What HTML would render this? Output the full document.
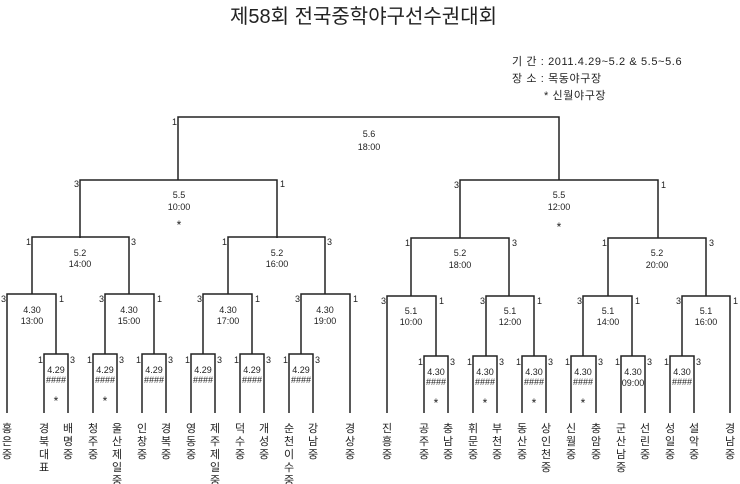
<!DOCTYPE html>
<html><head><meta charset="utf-8"><style>
html,body{margin:0;padding:0;background:#fff;}
svg{display:block;}
.t{font-family:"Liberation Sans","Noto Sans CJK KR",sans-serif;fill:#222;}
.s{font-size:9px;text-anchor:middle;}
.sc{font-size:9px;}
.n{font-size:11px;text-anchor:middle;font-family:"Liberation Sans","Noto Sans CJK KR",sans-serif;fill:#222;}
.i{font-size:11px;letter-spacing:0.6px;}
</style></head><body>
<svg width="740" height="484" viewBox="0 0 740 484" xmlns="http://www.w3.org/2000/svg">
<text x="230" y="23" class="t" style="font-size:20px">제58회  전국중학야구선수권대회</text>
<text x="512" y="65" class="t i">기  간 : 2011.4.29~5.2 &amp; 5.5~5.6</text>
<text x="512" y="82" class="t i">장  소 : 목동야구장</text>
<text x="544" y="99" class="t i">* 신월야구장</text>
<g fill="none" stroke="#222" stroke-width="1.5">
<path d="M178 180V117H559V180"/>
<path d="M80 238V180H277V238"/>
<path d="M460 238V180H658V238"/>
<path d="M32 294V237H129V294"/>
<path d="M228 294V237H325V294"/>
<path d="M411 296V238H509V296"/>
<path d="M608 296V238H706V296"/>
<path d="M7 413V294H56V354"/>
<path d="M105 354V294H154V354"/>
<path d="M203 354V294H252V354"/>
<path d="M301 354V294H350V413"/>
<path d="M387 413V296H436V356"/>
<path d="M486 356V296H534V356"/>
<path d="M583 356V296H632V356"/>
<path d="M682 356V296H730V413"/>
<path d="M44 413V354H68V413"/><path d="M93 413V354H117V413"/><path d="M142 413V354H166V413"/>
<path d="M191 413V354H215V413"/><path d="M240 413V354H264V413"/><path d="M289 413V354H313V413"/>
<path d="M424 413V356H448V413"/><path d="M473 413V356H497V413"/><path d="M522 413V356H546V413"/>
<path d="M571 413V356H596V413"/><path d="M621 413V356H645V413"/><path d="M670 413V356H694V413"/>
</g>
<g class="t s">
<text x="369" y="137">5.6</text><text x="369" y="150">18:00</text>
<text x="179" y="198">5.5</text><text x="179" y="210">10:00</text><text x="179" y="229" style="font-size:12px">*</text>
<text x="559" y="198">5.5</text><text x="559" y="210">12:00</text><text x="559" y="231" style="font-size:12px">*</text>
<text x="80" y="256">5.2</text><text x="80" y="267">14:00</text>
<text x="277" y="256">5.2</text><text x="277" y="267">16:00</text>
<text x="460" y="256">5.2</text><text x="460" y="268">18:00</text>
<text x="657" y="256">5.2</text><text x="657" y="268">20:00</text>
<text x="32" y="313">4.30</text><text x="32" y="324">13:00</text>
<text x="129" y="313">4.30</text><text x="129" y="324">15:00</text>
<text x="228" y="313">4.30</text><text x="228" y="324">17:00</text>
<text x="325" y="313">4.30</text><text x="325" y="324">19:00</text>
<text x="411" y="314">5.1</text><text x="411" y="325">10:00</text>
<text x="510" y="314">5.1</text><text x="510" y="325">12:00</text>
<text x="608" y="314">5.1</text><text x="608" y="325">14:00</text>
<text x="706" y="314">5.1</text><text x="706" y="325">16:00</text>
<text x="56" y="373">4.29</text><text x="56" y="383">####</text><text x="56" y="405" style="font-size:12px">*</text>
<text x="105" y="373">4.29</text><text x="105" y="383">####</text><text x="105" y="405" style="font-size:12px">*</text>
<text x="154" y="373">4.29</text><text x="154" y="383">####</text>
<text x="203" y="373">4.29</text><text x="203" y="383">####</text>
<text x="252" y="373">4.29</text><text x="252" y="383">####</text>
<text x="301" y="373">4.29</text><text x="301" y="383">####</text>
<text x="436" y="375">4.30</text><text x="436" y="385">####</text><text x="436" y="407" style="font-size:12px">*</text>
<text x="485" y="375">4.30</text><text x="485" y="385">####</text><text x="485" y="407" style="font-size:12px">*</text>
<text x="534" y="375">4.30</text><text x="534" y="385">####</text><text x="534" y="407" style="font-size:12px">*</text>
<text x="583" y="375">4.30</text><text x="583" y="385">####</text><text x="583" y="407" style="font-size:12px">*</text>
<text x="633" y="375">4.30</text><text x="633" y="386">09:00</text>
<text x="682" y="375">4.30</text><text x="682" y="385">####</text>
</g>
<g class="t sc">
<text x="172" y="125">1</text>
<text x="74" y="187">3</text><text x="280" y="187">1</text>
<text x="454" y="188">3</text><text x="661" y="188">1</text>
<text x="26" y="245">1</text><text x="131" y="245">3</text>
<text x="222" y="245">1</text><text x="327" y="245">3</text>
<text x="405" y="246">1</text><text x="512" y="246">3</text>
<text x="602" y="246">1</text><text x="709" y="246">3</text>
<text x="1" y="302">3</text><text x="59" y="302">1</text>
<text x="99" y="302">3</text><text x="157" y="302">1</text>
<text x="197" y="302">3</text><text x="255" y="302">1</text>
<text x="295" y="302">3</text><text x="353" y="302">1</text>
<text x="381" y="304">3</text><text x="439" y="304">1</text>
<text x="480" y="304">3</text><text x="537" y="304">1</text>
<text x="577" y="304">3</text><text x="635" y="304">1</text>
<text x="676" y="304">3</text><text x="733" y="304">1</text>
<text x="38" y="363">1</text><text x="70" y="363">3</text>
<text x="87" y="363">1</text><text x="119" y="363">3</text>
<text x="136" y="363">1</text><text x="168" y="363">3</text>
<text x="185" y="363">1</text><text x="217" y="363">3</text>
<text x="234" y="363">1</text><text x="266" y="363">3</text>
<text x="283" y="363">1</text><text x="315" y="363">3</text>
<text x="418" y="365">1</text><text x="450" y="365">3</text>
<text x="467" y="365">1</text><text x="499" y="365">3</text>
<text x="516" y="365">1</text><text x="548" y="365">3</text>
<text x="565" y="365">1</text><text x="598" y="365">3</text>
<text x="615" y="365">1</text><text x="647" y="365">3</text>
<text x="664" y="365">1</text><text x="696" y="365">3</text>
</g>
<g class="n">
<text x="7" y="432"><tspan x="7">홍</tspan><tspan x="7" dy="13">은</tspan><tspan x="7" dy="13">중</tspan></text>
<text x="44" y="432"><tspan x="44">경</tspan><tspan x="44" dy="13">북</tspan><tspan x="44" dy="13">대</tspan><tspan x="44" dy="13">표</tspan></text>
<text x="68" y="432"><tspan x="68">배</tspan><tspan x="68" dy="13">명</tspan><tspan x="68" dy="13">중</tspan></text>
<text x="93" y="432"><tspan x="93">청</tspan><tspan x="93" dy="13">주</tspan><tspan x="93" dy="13">중</tspan></text>
<text x="117" y="432"><tspan x="117">울</tspan><tspan x="117" dy="13">산</tspan><tspan x="117" dy="13">제</tspan><tspan x="117" dy="13">일</tspan><tspan x="117" dy="13">중</tspan></text>
<text x="142" y="432"><tspan x="142">인</tspan><tspan x="142" dy="13">창</tspan><tspan x="142" dy="13">중</tspan></text>
<text x="166" y="432"><tspan x="166">경</tspan><tspan x="166" dy="13">복</tspan><tspan x="166" dy="13">중</tspan></text>
<text x="191" y="432"><tspan x="191">영</tspan><tspan x="191" dy="13">동</tspan><tspan x="191" dy="13">중</tspan></text>
<text x="215" y="432"><tspan x="215">제</tspan><tspan x="215" dy="13">주</tspan><tspan x="215" dy="13">제</tspan><tspan x="215" dy="13">일</tspan><tspan x="215" dy="13">중</tspan></text>
<text x="240" y="432"><tspan x="240">덕</tspan><tspan x="240" dy="13">수</tspan><tspan x="240" dy="13">중</tspan></text>
<text x="264" y="432"><tspan x="264">개</tspan><tspan x="264" dy="13">성</tspan><tspan x="264" dy="13">중</tspan></text>
<text x="289" y="432"><tspan x="289">순</tspan><tspan x="289" dy="13">천</tspan><tspan x="289" dy="13">이</tspan><tspan x="289" dy="13">수</tspan><tspan x="289" dy="13">중</tspan></text>
<text x="313" y="432"><tspan x="313">강</tspan><tspan x="313" dy="13">남</tspan><tspan x="313" dy="13">중</tspan></text>
<text x="350" y="432"><tspan x="350">경</tspan><tspan x="350" dy="13">상</tspan><tspan x="350" dy="13">중</tspan></text>
<text x="387" y="432"><tspan x="387">진</tspan><tspan x="387" dy="13">흥</tspan><tspan x="387" dy="13">중</tspan></text>
<text x="424" y="432"><tspan x="424">공</tspan><tspan x="424" dy="13">주</tspan><tspan x="424" dy="13">중</tspan></text>
<text x="448" y="432"><tspan x="448">충</tspan><tspan x="448" dy="13">남</tspan><tspan x="448" dy="13">중</tspan></text>
<text x="473" y="432"><tspan x="473">휘</tspan><tspan x="473" dy="13">문</tspan><tspan x="473" dy="13">중</tspan></text>
<text x="497" y="432"><tspan x="497">부</tspan><tspan x="497" dy="13">천</tspan><tspan x="497" dy="13">중</tspan></text>
<text x="522" y="432"><tspan x="522">동</tspan><tspan x="522" dy="13">산</tspan><tspan x="522" dy="13">중</tspan></text>
<text x="546" y="432"><tspan x="546">상</tspan><tspan x="546" dy="13">인</tspan><tspan x="546" dy="13">천</tspan><tspan x="546" dy="13">중</tspan></text>
<text x="571" y="432"><tspan x="571">신</tspan><tspan x="571" dy="13">월</tspan><tspan x="571" dy="13">중</tspan></text>
<text x="596" y="432"><tspan x="596">충</tspan><tspan x="596" dy="13">암</tspan><tspan x="596" dy="13">중</tspan></text>
<text x="621" y="432"><tspan x="621">군</tspan><tspan x="621" dy="13">산</tspan><tspan x="621" dy="13">남</tspan><tspan x="621" dy="13">중</tspan></text>
<text x="645" y="432"><tspan x="645">선</tspan><tspan x="645" dy="13">린</tspan><tspan x="645" dy="13">중</tspan></text>
<text x="670" y="432"><tspan x="670">성</tspan><tspan x="670" dy="13">일</tspan><tspan x="670" dy="13">중</tspan></text>
<text x="694" y="432"><tspan x="694">설</tspan><tspan x="694" dy="13">악</tspan><tspan x="694" dy="13">중</tspan></text>
<text x="730" y="432"><tspan x="730">경</tspan><tspan x="730" dy="13">남</tspan><tspan x="730" dy="13">중</tspan></text>
</g>
</svg>
</body></html>
